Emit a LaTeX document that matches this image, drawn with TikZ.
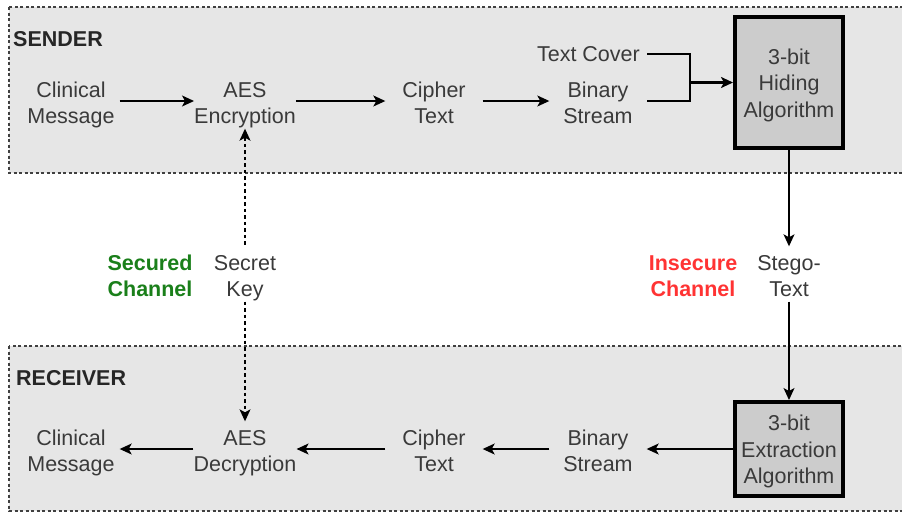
\documentclass[tikz,border=0pt]{standalone}
\usepackage{fontspec}
\setmainfont{Liberation Sans}
\usetikzlibrary{arrows.meta}

\definecolor{zonefill}{HTML}{E6E6E6}
\definecolor{algofill}{HTML}{CCCCCC}
\definecolor{txtgray}{HTML}{3A3A3A}
\definecolor{secgreen}{HTML}{1A7F1A}
\definecolor{insred}{HTML}{FF3333}

% two-line label with fixed top height and bottom depth, so every label sits alike
\newcommand{\twoln}[2]{\rule{0pt}{23.5pt}#1\\#2\rule[-5pt]{0pt}{5pt}}
% three-line label for the algorithm boxes
\newcommand{\threeln}[3]{\rule{0pt}{20.5pt}#1\\#2\\#3}

\begin{document}
\begin{tikzpicture}[x=1pt, y=-1pt,
  zone/.style={draw=black!75, line width=1.2pt, dash pattern=on 3pt off 2.5pt, fill=zonefill},
  lbl/.style={text=txtgray, font=\fontsize{21.5}{26.5}\selectfont, align=center,
              inner xsep=0pt, inner ysep=0pt, minimum width=97pt},
  title/.style={text=black!85, font=\fontsize{21.5}{26}\selectfont\bfseries, inner sep=0pt},
  chan/.style={font=\fontsize{21.5}{26.5}\selectfont\bfseries, align=center, inner sep=0pt},
  algo/.style={draw=black, line width=4pt, fill=algofill, text=txtgray,
               font=\fontsize{21.5}{26.5}\selectfont, align=center,
               minimum width=108pt, inner sep=0pt},
  tip/.tip={Stealth[length=12pt,width=11pt,inset=3pt]},
  flow/.style={line width=1.3pt, -tip},
  keyline/.style={line width=1.3pt, dash pattern=on 3.5pt off 3pt}
]
\useasboundingbox (0,0) rectangle (902,512);

% sender and receiver zones
\path[zone] (9,7) rectangle (906,173);
\path[zone] (9,346) rectangle (906,511);
\node[title, anchor=base west] (sendtitle) at (13,46) {SENDER};
\node[title, anchor=base west] (recvtitle) at (16,385) {RECEIVER};

% sender chain
\node[lbl] (cm1) at (71,101) {\twoln{Clinical}{Message}};
\node[lbl] (enc) at (245,101) {\twoln{AES}{Encryption}};
\node[lbl] (ct1) at (434,101) {\twoln{Cipher}{Text}};
\node[lbl] (bs1) at (598,101) {\twoln{Binary}{Stream}};
\node[text=txtgray, font=\fontsize{21.5}{26}\selectfont, inner xsep=7pt, inner ysep=0pt,
      anchor=east] (cover) at (647,54) {Text Cover};
\node[algo, minimum height=131pt] (hide) at (789,82.5) {\threeln{3-bit}{Hiding}{Algorithm}};

\draw[flow] (cm1) -- (enc);
\draw[flow] (enc) -- (ct1);
\draw[flow] (ct1) -- (bs1);
\coordinate (join) at (690,82.5);
\draw[line width=1.3pt] (cover.east) -| (join) |- (bs1.east);
\draw[line width=2.2pt, -tip] (join) -- (hide.west);

% channel between the two sides
\node[lbl] (key) at (245,274) {\twoln{Secret}{Key}};
\node[chan, text=secgreen] (secch) at (150,274) {\twoln{Secured}{Channel}};
\node[lbl] (stego) at (789,274) {\twoln{Stego-}{Text}};
\node[chan, text=insred] (insch) at (693,274) {\twoln{Insecure}{Channel}};

% receiver chain
\node[algo, minimum height=94pt] (extr) at (789,449) {\threeln{3-bit}{Extraction}{Algorithm}};
\node[lbl] (bs2) at (598,449) {\twoln{Binary}{Stream}};
\node[lbl] (ct2) at (434,449) {\twoln{Cipher}{Text}};
\node[lbl] (dec) at (245,449) {\twoln{AES}{Decryption}};
\node[lbl] (cm2) at (71,449) {\twoln{Clinical}{Message}};

\draw[flow] (hide) -- (stego);
\draw[flow] (stego) -- (extr);
\draw[flow] (extr) -- (bs2);
\draw[flow] (bs2) -- (ct2);
\draw[flow] (ct2) -- (dec);
\draw[flow] (dec) -- (cm2);

% shared secret key, exchanged over the secured channel
\draw[keyline, tip-] (enc) -- (key);
\draw[keyline, -tip] (key) -- (dec);
\end{tikzpicture}
\end{document}
